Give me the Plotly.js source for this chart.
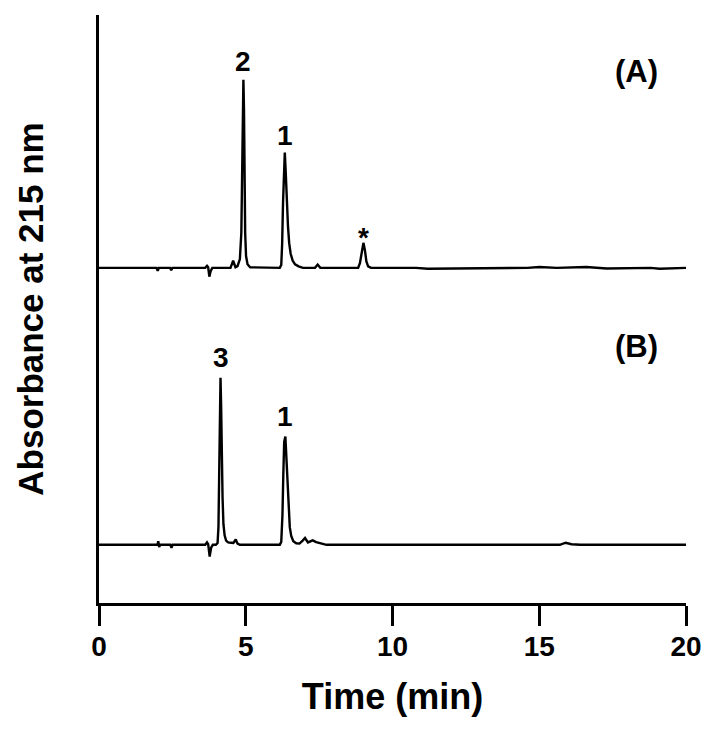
<!DOCTYPE html>
<html>
<head>
<meta charset="utf-8">
<script src="https://cdn.plot.ly/plotly-3.0.1.min.js"></script>
<style>html,body{margin:0;padding:0;background:#fff;}#chart{width:718px;height:752px;}</style>
</head>
<body>
<div id="chart"></div>
<script>
// Chromatogram (A): retention time (min) and absorbance (arbitrary units above baseline)
const timeA = [
  0, 1.96, 2.00, 2.04, 2.42, 2.46, 2.50,
  3.62, 3.68, 3.72, 3.76, 3.80, 3.86,
  4.48, 4.57, 4.65, 4.72,
  4.80, 4.85, 4.88, 4.90, 4.92, 4.94, 4.96, 4.98, 5.01, 5.06, 5.15,
  6.16, 6.21, 6.24, 6.27, 6.30, 6.33, 6.36, 6.40, 6.44, 6.48, 6.53, 6.60, 6.68, 6.80, 6.95,
  7.36, 7.45, 7.54,
  8.83, 8.89, 8.95, 9.01, 9.06, 9.11, 9.17, 9.27,
  10.8, 11.2, 14.6, 15.0, 15.6, 16.6, 17.3, 18.8, 19.1, 20
];
const absA = [
  0, 0, -0.5, 0, 0, -0.4, 0,
  0, 0.35, 0.1, -1.5, -0.6, 0,
  0, 1.2, 0.1, 0.3,
  1.5, 6, 16, 27, 32, 27, 15, 6, 2, 0.6, 0.1,
  0, 0.5, 4, 11, 18, 19.6, 16.5, 11, 7, 4.2, 2.4, 1.2, 0.6, 0.25, 0,
  0, 0.55, 0,
  0, 0.8, 2.8, 4.25, 3, 1.1, 0.25, 0,
  0, -0.15, 0, 0.15, 0, 0.15, -0.1, 0, -0.15, 0
];

// Chromatogram (B)
const timeB = [
  0, 1.99, 2.02, 2.05, 2.08, 2.43, 2.47, 2.51,
  3.62, 3.68, 3.72, 3.77, 3.82, 3.88,
  3.98, 4.04, 4.07, 4.10, 4.12, 4.14, 4.16, 4.18, 4.21, 4.24, 4.28, 4.33, 4.40, 4.50, 4.58, 4.66, 4.72, 4.80,
  6.16, 6.21, 6.25, 6.28, 6.31, 6.35, 6.38, 6.42, 6.46, 6.50, 6.55, 6.62, 6.72, 6.83,
  6.94, 7.02, 7.12, 7.20, 7.28, 7.40, 7.55, 7.75,
  10.5, 13.0, 15.7, 15.9, 16.1, 16.4, 20
];
const absB = [
  0, 0, 0.6, -0.4, 0, 0, -0.5, 0,
  0, 0.4, 0.1, -2.0, -0.5, 0,
  0, 0.3, 3, 12, 22, 28.4, 24, 16, 8, 3.5, 1.6, 0.7, 0.4, 0.35, 0.3, 0.9, 0.2, 0,
  0, 0.5, 5, 12, 17.5, 18.4, 15.5, 10, 5.8, 3, 1.5, 0.6, 0.25, 0.2,
  0.7, 1.15, 0.4, 0.6, 0.75, 0.45, 0.2, 0,
  0, 0.05, 0, 0.35, 0.1, 0, 0
];

// Peak labels
const labelsA = ["2", "1", "*"];
const labelTimesA = [4.92, 6.33, 9.01];
const labelsB = ["3", "1"];
const labelTimesB = [4.14, 6.35];
const panelLabels = ["(A)", "(B)"];
const xTicks = [0, 5, 10, 15, 20];

// vertical stacking offsets of the two chromatograms
const OFFSET_A = 57.0;
const OFFSET_B = 9.9;

const FONT = "Liberation Sans, Arial, Helvetica, sans-serif";

const traces = [
  {x: timeA, y: absA.map(v => v + OFFSET_A), mode: "lines", line: {color: "#000", width: 2.4}, hoverinfo: "skip"},
  {x: timeB, y: absB.map(v => v + OFFSET_B), mode: "lines", line: {color: "#000", width: 2.4}, hoverinfo: "skip"}
];

function peakTop(times, vals, t) {
  let best = -Infinity;
  times.forEach((tt, i) => { if (Math.abs(tt - t) < 0.03) best = Math.max(best, vals[i]); });
  return best;
}

const annotations = [];
labelsA.forEach((lab, i) => {
  const top = peakTop(timeA, absA, labelTimesA[i]) + OFFSET_A;
  annotations.push({x: labelTimesA[i], y: top, xref: "x", yref: "y", text: lab, showarrow: false,
    yanchor: "bottom", yshift: lab === "*" ? -12 : (lab === "1" ? 0 : 1),
    font: {family: FONT, size: 28, color: "#000", weight: "bold"}});
});
labelsB.forEach((lab, i) => {
  const top = peakTop(timeB, absB, labelTimesB[i]) + OFFSET_B;
  annotations.push({x: labelTimesB[i], y: top, xref: "x", yref: "y", text: lab, showarrow: false,
    yanchor: "bottom", yshift: 3,
    font: {family: FONT, size: 28, color: "#000", weight: "bold"}});
});
annotations.push({x: 18.3, y: 90.4, xref: "x", yref: "y", text: panelLabels[0], showarrow: false,
  font: {family: FONT, size: 31, color: "#000", weight: "bold"}});
annotations.push({x: 18.3, y: 43.7, xref: "x", yref: "y", text: panelLabels[1], showarrow: false,
  font: {family: FONT, size: 31, color: "#000", weight: "bold"}});

const layout = {
  width: 718, height: 752,
  margin: {l: 99, r: 32, t: 15, b: 149},
  paper_bgcolor: "#fff", plot_bgcolor: "#fff",
  showlegend: false,
  xaxis: {
    range: [0, 20], tickvals: xTicks, ticktext: xTicks.map(String),
    showline: true, linecolor: "#000", linewidth: 3,
    ticks: "outside", ticklen: 20, tickwidth: 3, tickcolor: "#000",
    ticklabelstandoff: -4,
    showgrid: false, zeroline: false,
    tickfont: {family: FONT, size: 28, color: "#000", weight: "bold"},
    title: {text: "Time (min)", font: {family: FONT, size: 36, color: "#000", weight: "bold"}, standoff: 24}
  },
  yaxis: {
    range: [0, 100],
    showline: true, linecolor: "#000", linewidth: 3,
    ticks: "", showticklabels: false, showgrid: false, zeroline: false,
    title: {text: "Absorbance at 215 nm", font: {family: FONT, size: 35, color: "#000", weight: "bold"}, standoff: 42}
  },
  annotations: annotations
};

Plotly.newPlot("chart", traces, layout, {displayModeBar: false, staticPlot: true});
</script>
</body>
</html>
